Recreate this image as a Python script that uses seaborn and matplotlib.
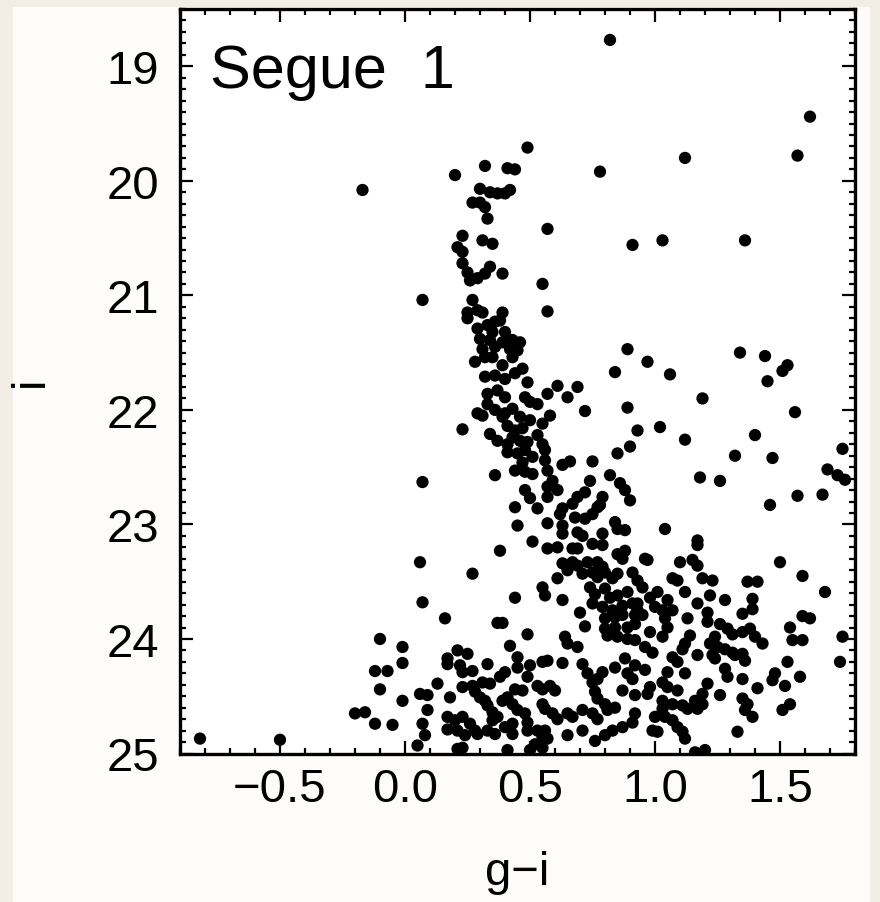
import matplotlib
matplotlib.use("Agg")
import matplotlib.pyplot as plt
import seaborn as sns
import pandas as pd
from matplotlib.ticker import MultipleLocator
from matplotlib.patches import Rectangle

# ---- data: (g-i, i) ----
upper = [(-0.17,20.08),(0.82,18.77),(0.49,19.71),(0.32,19.87),(0.20,19.95),(0.41,19.89),(0.44,19.90),
         (0.78,19.92),(0.30,20.07),(0.34,20.10),(0.37,20.11),(0.40,20.11),(0.42,20.08),(0.27,20.19),
         (0.30,20.19),(0.32,20.23),(0.33,20.33),(0.57,20.42),(0.23,20.48),(0.31,20.52),(0.35,20.55),
         (0.21,20.58),(0.23,20.62),(0.91,20.56),(1.62,19.44),(1.12,19.80),(1.57,19.78),(1.03,20.52),
         (1.36,20.52)]

middle = [(0.23,20.72),(0.25,20.80),(0.26,20.87),(0.29,20.85),(0.32,20.81),(0.34,20.75),(0.39,20.81),
          (0.55,20.90),(0.07,21.04),(0.27,21.04),(0.57,21.14),(0.25,21.15),(0.29,21.13),(0.31,21.15),
          (0.25,21.20),(0.39,21.15),(0.38,21.22),(0.29,21.29),(0.33,21.26),(0.36,21.23),(0.35,21.32),
          (0.40,21.32),(0.30,21.38),(0.34,21.39),(0.39,21.41),(0.43,21.39),(0.46,21.41),(0.31,21.47),
          (0.36,21.45),(0.42,21.47),(0.45,21.48),(0.28,21.58),(0.32,21.54),(0.35,21.54),(0.39,21.61),
          (0.43,21.54),(0.89,21.47),(0.84,21.67),(0.32,21.71),(0.36,21.70),(0.40,21.73),(0.44,21.68),
          (0.47,21.64),(0.49,21.76),(0.61,21.79),(0.57,21.86),(0.69,21.80),(0.65,21.89),(0.33,21.86),
          (0.37,21.83),(0.40,21.89),(0.33,21.95),(0.48,21.89),(0.50,21.93),(0.53,21.95),(0.89,21.98),
          (0.29,22.03),(0.31,22.05),(0.36,22.00),(0.40,22.03),(0.43,21.99),(0.46,22.06),(0.50,22.09),
          (0.55,22.12),(0.58,22.05),(0.72,22.01),(0.23,22.17),(0.34,22.21),(0.37,22.27),(0.39,22.06),
          (0.41,22.14),(0.44,22.18),(0.47,22.16),(0.41,22.30),(0.43,22.24),(0.46,22.27),(0.49,22.28),
          (0.53,22.22),(0.55,22.30),(0.56,22.35),(0.93,22.18),(0.85,22.38),(0.90,22.32),(0.41,22.37),
          (0.45,22.38),(0.48,22.35),(0.51,22.41),(0.47,22.46),(0.44,22.53),(0.48,22.54),(0.51,22.56),
          (0.56,22.44),(0.57,22.53),(0.59,22.62),(0.57,22.67),(0.59,22.66),(0.63,22.48),(0.66,22.45),
          (0.75,22.45),(0.36,22.57),(0.07,22.63),(0.74,22.62),(0.82,22.57),(0.86,22.64),(0.88,22.70),
          (0.90,22.79),(0.69,22.76),(0.72,22.72),(0.79,22.76),(0.78,22.83),(0.48,22.70),(0.50,22.77),
          (0.44,22.85),(0.57,22.76),(0.61,22.70),(0.63,22.86),
          (0.97,21.58),(1.06,21.69),(1.34,21.50),(1.44,21.53),(1.45,21.75),(1.51,21.66),(1.53,21.61),
          (1.19,21.90),(1.56,22.02),(1.02,22.15),(1.12,22.26),(1.40,22.22),(1.32,22.40),(1.47,22.42),
          (1.75,22.34),(1.69,22.52),(1.73,22.57),(1.76,22.61),(1.18,22.59),(1.26,22.62),(1.57,22.75),
          (1.67,22.74),(1.46,22.83)]

lower_blue = [(-0.10,24.00),(-0.01,24.07),(-0.01,24.21),(-0.12,24.28),(-0.07,24.28),(-0.10,24.44),
              (-0.01,24.54),(-0.20,24.65),(-0.16,24.64),(-0.12,24.74),(-0.05,24.75),(-0.82,24.87),
              (-0.50,24.88)]

lower_mid = [(0.53,22.86),(0.45,23.01),(0.51,23.15),(0.38,23.23),(0.06,23.33),(0.27,23.43),(0.07,23.68),
             (0.16,23.82),(0.44,23.64),(0.55,23.55),(0.56,23.62),(0.37,23.86),(0.39,23.86),(0.49,23.96),
             (0.42,24.06),(0.61,23.47),(0.63,23.66),(0.70,23.77),(0.72,23.89),(0.64,23.98),(0.65,24.04),
             (0.69,24.07),(0.57,22.99),(0.62,22.91),(0.63,23.01),(0.63,23.08),(0.67,22.82),(0.68,22.94),
             (0.72,22.95),(0.75,22.91),(0.77,22.85),(0.69,23.07),(0.71,23.10),(0.79,23.08),(0.84,22.98),
             (0.85,23.04),(0.88,23.05),(0.57,23.21),(0.61,23.20),(0.67,23.21),(0.69,23.21),(0.75,23.17),
             (0.79,23.18),(0.88,23.23),(0.87,23.30),(0.85,23.26),(0.63,23.34),(0.67,23.33),(0.65,23.40),
             (0.69,23.36),(0.73,23.33),(0.77,23.33),(0.79,23.37),(0.71,23.43),(0.75,23.42),(0.77,23.46),
             (0.80,23.42),(0.83,23.47),(0.85,23.43),(0.91,23.42),(0.93,23.49),(0.74,23.55),(0.76,23.61),
             (0.80,23.56),(0.82,23.64),(0.85,23.62),(0.89,23.59),(0.75,23.69),(0.79,23.72),(0.83,23.75),
             (0.87,23.71),(0.91,23.69),(0.93,23.75),(0.80,23.82),(0.84,23.81),(0.87,23.79),(0.92,23.79),
             (0.80,23.91),(0.84,23.90),(0.89,23.90),(0.92,23.87),(0.81,23.97),(0.85,23.98),(0.89,24.00),
             (0.92,24.01),(0.17,24.17),(0.17,24.22),(0.21,24.10),(0.25,24.13),(0.22,24.23),(0.23,24.29),
             (0.27,24.28),(0.33,24.22),(0.45,24.16),(0.45,24.25),(0.40,24.29),(0.38,24.33),(0.50,24.23),
             (0.55,24.20),(0.57,24.19),(0.63,24.21),(0.71,24.22),(0.49,24.33),(0.13,24.39),(0.23,24.42),
             (0.27,24.41),(0.31,24.38),(0.34,24.39),(0.28,24.46),(0.30,24.51),(0.32,24.54),(0.44,24.44),
             (0.47,24.45),(0.53,24.41),(0.55,24.44),(0.58,24.41),(0.60,24.45),(0.73,24.30),(0.75,24.38),
             (0.77,24.35),(0.79,24.29),(0.84,24.25),(0.88,24.17),(0.89,24.30),(0.91,24.35),(0.87,24.45),
             (0.92,24.49),(0.76,24.46),(0.77,24.52),(0.80,24.57),(0.81,24.62),(0.84,24.60),(0.06,24.48),
             (0.09,24.49),(0.18,24.51),(0.09,24.62),(0.07,24.74),(0.08,24.84),(0.05,24.93),(0.17,24.68),
             (0.20,24.71),(0.23,24.68),(0.26,24.74),(0.28,24.80),(0.29,24.83),(0.17,24.79),(0.21,24.80),
             (0.24,24.84),(0.33,24.58),(0.35,24.64),(0.37,24.68),(0.35,24.71),(0.39,24.54),(0.41,24.51),
             (0.43,24.57),(0.45,24.62),(0.33,24.80),(0.36,24.83),(0.40,24.77),(0.43,24.74),(0.43,24.83),
             (0.48,24.65),(0.49,24.73),(0.49,24.80),(0.55,24.57),(0.56,24.61),(0.59,24.65),(0.61,24.70),
             (0.65,24.65),(0.67,24.68),(0.71,24.62),(0.75,24.65),(0.77,24.70),(0.53,24.80),(0.55,24.86),
             (0.56,24.80),(0.57,24.87),(0.52,24.92),(0.55,24.95),(0.65,24.84),(0.71,24.80),(0.76,24.89),
             (0.80,24.84),(0.83,24.80),(0.87,24.77),(0.91,24.73),(0.92,24.65),(0.21,24.96),(0.23,24.95),
             (0.41,24.97),(0.50,24.97)]

lower_red = [(1.04,23.04),(1.17,23.14),(1.17,23.18),(0.96,23.30),(0.97,23.31),(1.10,23.33),(1.15,23.31),
             (1.17,23.36),(1.50,23.33),(1.59,23.45),(1.68,23.59),(0.95,23.55),(1.07,23.47),(1.09,23.49),
             (1.12,23.59),(1.19,23.47),(1.23,23.49),(1.37,23.50),(1.41,23.50),(0.98,23.64),(1.01,23.59),
             (1.05,23.66),(1.03,23.75),(1.00,23.72),(0.93,23.69),(0.95,23.79),(1.22,23.62),(1.17,23.69),
             (1.28,23.66),(1.39,23.65),(1.39,23.74),(1.35,23.78),(1.59,23.80),(1.62,23.82),(1.04,23.82),
             (1.05,23.90),(1.07,23.75),(1.13,23.82),(1.21,23.77),(1.21,23.85),(1.26,23.87),(1.29,23.91),
             (1.31,23.96),(1.35,23.94),(1.38,23.91),(1.40,23.98),(1.43,24.04),(1.54,23.90),(1.55,24.01),
             (1.59,24.01),(1.75,23.98),(1.74,24.20),(0.98,23.94),(1.03,23.98),(0.96,24.07),(0.99,24.12),
             (1.14,23.97),(1.12,24.04),(1.11,24.09),(1.24,23.98),(1.22,24.04),(1.25,24.07),(1.28,24.09),
             (1.31,24.12),(1.32,24.14),(1.35,24.13),(1.36,24.19),(1.17,24.14),(1.23,24.14),(1.24,24.17),
             (1.07,24.16),(1.09,24.20),(0.92,24.23),(0.96,24.27),(1.05,24.29),(1.12,24.30),(1.28,24.26),
             (1.29,24.33),(1.35,24.35),(1.53,24.20),(1.48,24.30),(1.47,24.36),(1.58,24.33),(1.52,24.41),
             (1.41,24.43),(1.21,24.39),(1.19,24.48),(1.16,24.54),(1.19,24.57),(1.26,24.49),(1.03,24.38),
             (1.05,24.42),(1.09,24.45),(0.98,24.42),(0.97,24.48),(1.03,24.54),(1.07,24.57),(1.11,24.58),
             (1.13,24.61),(1.17,24.61),(1.35,24.52),(1.37,24.57),(1.36,24.62),(1.54,24.57),(1.51,24.62),
             (1.39,24.68),(1.03,24.61),(1.00,24.68),(1.04,24.68),(1.07,24.71),(1.09,24.77),(1.11,24.81),
             (1.12,24.87),(0.99,24.80),(1.01,24.81),(1.33,24.81),(1.16,24.99),(1.20,24.97)]

x_ticks = [-0.5, 0.0, 0.5, 1.0, 1.5]
x_ticklabels = ["\u22120.5", "0.0", "0.5", "1.0", "1.5"]
y_ticks = [19, 20, 21, 22, 23, 24, 25]
title_text = "Segue  1"

rows = upper + middle + lower_blue + lower_mid + lower_red
df = pd.DataFrame(rows, columns=["g-i", "i"])

# ---- figure ----
sns.set_style("ticks")
plt.rcParams["font.family"] = ["Liberation Sans", "DejaVu Sans"]

fig = plt.figure(figsize=(8.8, 9.03), dpi=100)
fig.patch.set_facecolor("#fdfcfa")
# beige frame strips seen in the reference
fig.add_artist(Rectangle((0, 0), 13/880, 1, transform=fig.transFigure,
                         facecolor="#f2eee6", edgecolor="none", zorder=0))
fig.add_artist(Rectangle((0, 1 - 8/903), 1, 8/903, transform=fig.transFigure,
                         facecolor="#f2eee6", edgecolor="none", zorder=0))
fig.add_artist(Rectangle((1 - 10/880, 0), 10/880, 1, transform=fig.transFigure,
                         facecolor="#f2eee6", edgecolor="none", zorder=0))

ax = fig.add_axes([180/880, 1 - 754.5/903, 675/880, 744.5/903])
ax.set_facecolor("white")

sns.scatterplot(data=df, x="g-i", y="i", ax=ax, color="black", s=78,
                linewidth=0, edgecolor="none", legend=False)

ax.set_xlim(-0.9, 1.8)
ax.set_ylim(25.0, 18.5)

ax.set_xticks(x_ticks)
ax.set_xticklabels(x_ticklabels)
ax.set_yticks(y_ticks)
ax.xaxis.set_minor_locator(MultipleLocator(0.1))
ax.yaxis.set_minor_locator(MultipleLocator(0.1))

ax.tick_params(which="both", direction="in", top=True, right=True,
               colors="black", labelcolor="black")
ax.tick_params(which="major", length=9.5, width=1.6, labelsize=34)
ax.tick_params(which="minor", length=4.3, width=1.6)
ax.tick_params(axis="x", which="major", pad=10)
ax.tick_params(axis="y", which="major", pad=15)

for sp in ax.spines.values():
    sp.set_linewidth(2.4)
    sp.set_color("black")

ax.set_xlabel("g\u2212i", fontsize=34, color="black")
ax.set_ylabel("i", fontsize=34, color="black")
ax.xaxis.set_label_coords(0.5, -0.13)
ax.yaxis.set_label_coords(-0.188, 0.5)

ax.text(0.044, 0.955, title_text, transform=ax.transAxes, fontsize=44,
        ha="left", va="top", color="black")

fig.savefig("out.png", dpi=100, facecolor=fig.get_facecolor())
